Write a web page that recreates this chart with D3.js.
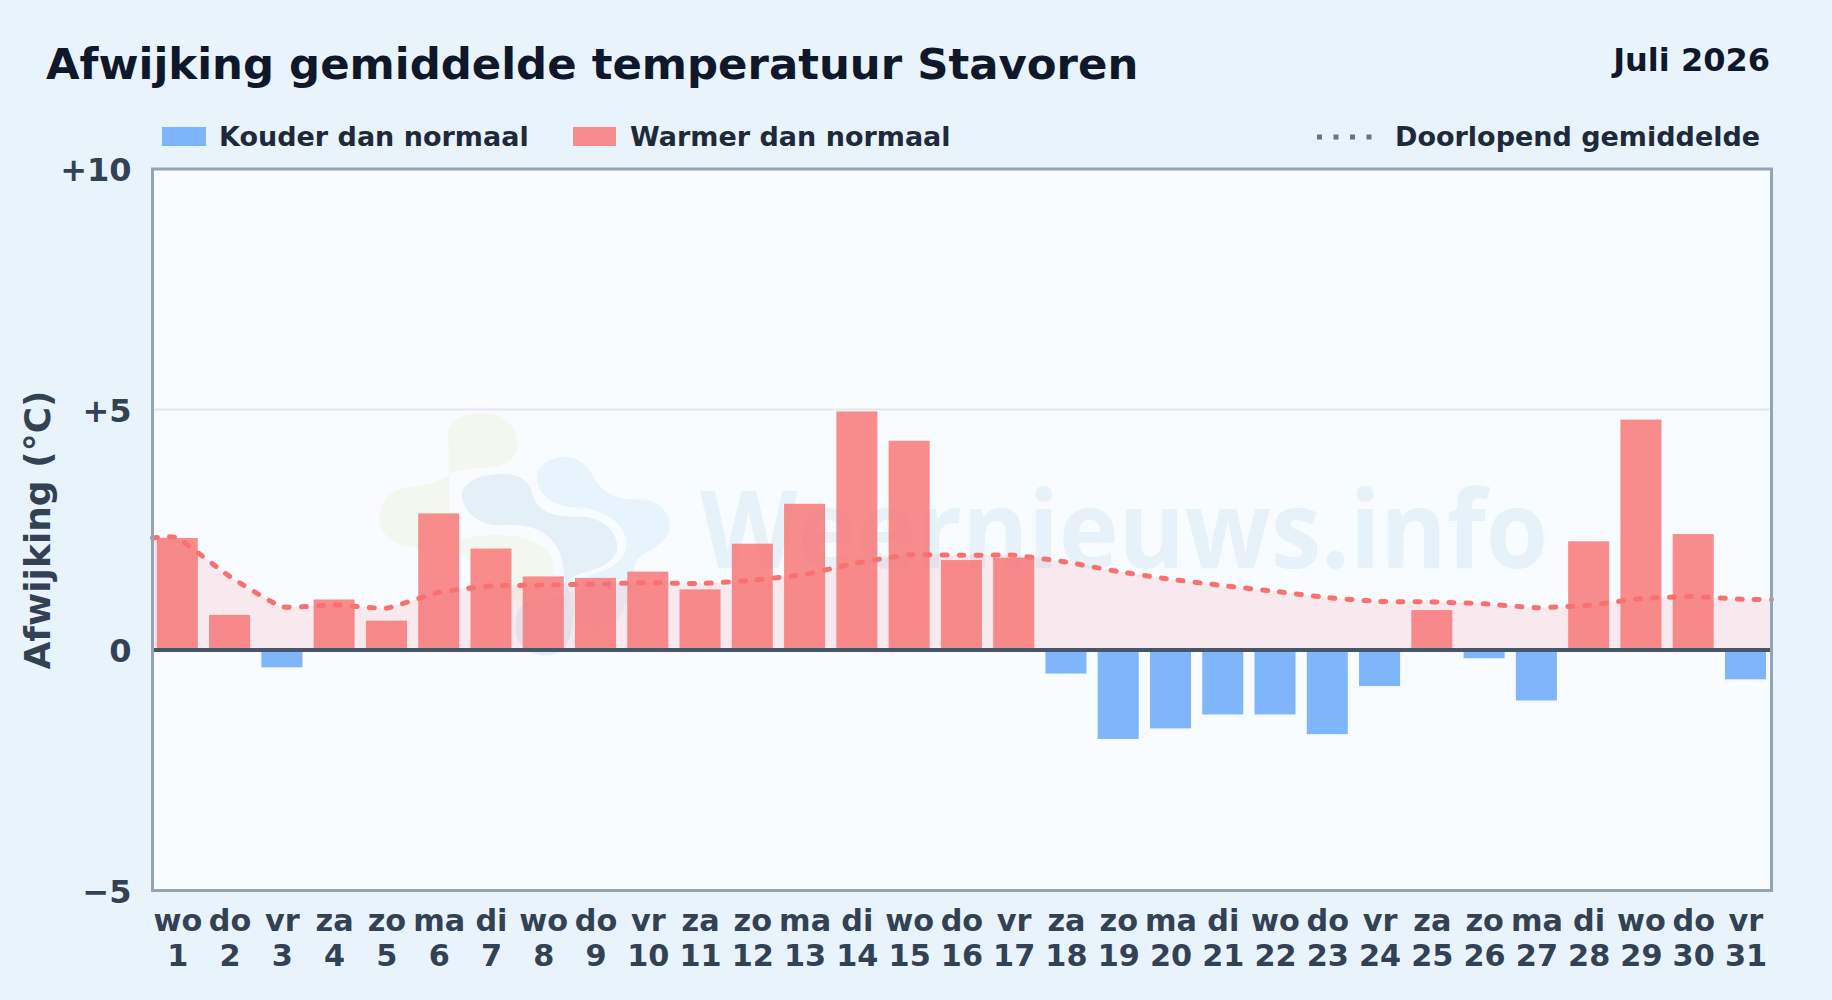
<!DOCTYPE html>
<html>
<head>
  <meta charset="utf-8">
  <title>Afwijking gemiddelde temperatuur Stavoren</title>
  <style>
  html, body { margin: 0; padding: 0; background: #e8f3fc; }
  svg { display: block; }
  text { font-family: "DejaVu Sans", sans-serif; font-weight: 700; }
  .axis path, .axis line { display: none; }
  </style>
</head>
<body>
  <svg width="1832" height="1000"></svg>
  <script src="https://d3js.org/d3.v7.min.js"></script>
  <script>
  // waarden
  var days = ["wo","do","vr","za","zo","ma","di","wo","do","vr","za","zo","ma","di","wo","do","vr","za","zo","ma","di","wo","do","vr","za","zo","ma","di","wo","do","vr"];
  var dates = [1,2,3,4,5,6,7,8,9,10,11,12,13,14,15,16,17,18,19,20,21,22,23,24,25,26,27,28,29,30,31];
  var anomaly = [2.33,0.73,-0.36,1.05,0.61,2.84,2.11,1.53,1.50,1.63,1.26,2.21,3.04,4.96,4.35,1.87,1.92,-0.49,-1.85,-1.63,-1.34,-1.34,-1.75,-0.75,0.83,-0.17,-1.05,2.26,4.79,2.41,-0.61];
  var runningMean = [2.33,1.53,0.90,0.94,0.87,1.20,1.33,1.35,1.37,1.40,1.38,1.45,1.57,1.81,1.98,1.97,1.97,1.83,1.63,1.47,1.34,1.22,1.09,1.01,1.00,0.96,0.88,0.93,1.07,1.11,1.05];
  var yTicks = [-5,0,5,10];
  var yTickLabels = ["\u22125","0","+5","+10"];

  var svg = d3.select("svg"),
      margin = {top: 169, right: 60.5, bottom: 109.5, left: 152.5},
      width = +svg.attr("width") - margin.left - margin.right,
      height = +svg.attr("height") - margin.top - margin.bottom,
      g = svg.append("g").attr("transform", "translate(" + margin.left + "," + margin.top + ")");

  var x = d3.scaleBand().domain(d3.range(dates.length)).range([-1.3, width + 0.1]).paddingInner(0.215).paddingOuter(0.1075);
  var y = d3.scaleLinear().domain([-5, 10]).range([height, 0]);

  // achtergrond plotvlak
  g.append("rect").attr("width", width).attr("height", height).attr("fill", "#f8fbff");

  // watermerk: logo en tekst
  var logo = g.append("g").attr("transform", "translate(" + (360 - margin.left) + "," + (400 - margin.top) + ") scale(0.3333)");
  logo.append("path").attr("fill", "#f2f8ef").attr("d", "M265,100 C265,60 310,40 370,40 C440,40 470,85 472,130 C474,175 440,195 400,200 C340,205 290,205 265,225 C235,250 180,260 130,265 C85,275 58,310 58,350 C58,400 100,440 160,440 C220,442 280,425 340,410 C400,400 470,400 530,430 C570,450 582,480 580,510 C575,560 520,590 470,600 C420,610 380,560 350,510 C320,470 300,450 270,440 Z");
  logo.append("path").attr("fill", "#e5eff8").attr("d", "M305,285 C310,240 370,222 430,222 C490,222 510,250 520,290 C535,335 580,350 640,350 C710,345 770,380 772,440 C772,480 720,505 680,515 C640,525 615,540 615,580 C600,600 560,600 520,600 C470,610 460,660 470,710 C485,760 560,785 610,750 C640,720 640,650 640,620 C640,600 640,590 620,560 C605,520 615,480 590,440 C560,390 510,372 440,375 C380,385 310,350 305,285 Z");
  logo.append("path").attr("fill", "#e8f4fd").attr("d", "M530,230 C535,190 580,170 620,172 C670,175 690,210 710,245 C740,290 790,300 840,298 C900,300 930,340 930,380 C925,430 870,445 840,470 C810,495 830,530 800,600 C790,660 750,695 700,690 C650,680 625,630 630,590 C640,550 680,530 720,515 C770,500 800,470 800,430 C800,380 740,325 650,322 C590,322 530,290 530,230 Z");
  g.append("text")
    .attr("x", 700 - margin.left).attr("y", 568 - margin.top)
    .attr("font-size", 108).attr("fill", "#e6f1fa")
    .attr("textLength", 848).attr("lengthAdjust", "spacingAndGlyphs")
    .style("font-family", "'Open Sans', sans-serif")
    .style("font-weight", 700)
    .text("Weernieuws.info");

  // raster
  g.append("line").attr("x1", 0).attr("x2", width).attr("y1", y(5)).attr("y2", y(5))
    .attr("stroke", "#e2e8f0").attr("stroke-width", 2);

  // doorlopend gemiddelde, loopt door tot aan de randen
  var lineData = [{px: 0, v: runningMean[0]}]
    .concat(runningMean.map(function(v, i) { return {px: x(i) + x.bandwidth() / 2, v: v}; }))
    .concat([{px: width, v: runningMean[runningMean.length - 1]}]);

  var curve = d3.curveCardinal.tension(0.6);
  var area = d3.area().curve(curve)
    .x(function(d) { return d.px; }).y0(y(0)).y1(function(d) { return y(d.v); });
  var line = d3.line().curve(curve)
    .x(function(d) { return d.px; }).y(function(d) { return y(d.v); });

  g.append("path").datum(lineData).attr("d", area).attr("fill", "#fb7185").attr("fill-opacity", 0.13);

  // staven
  g.selectAll(".bar").data(anomaly).enter().append("rect")
    .attr("class", "bar")
    .attr("x", function(d, i) { return x(i); })
    .attr("width", x.bandwidth())
    .attr("y", function(d) { return y(Math.max(d, 0)); })
    .attr("height", function(d) { return Math.abs(y(d) - y(0)); })
    .attr("fill", function(d) { return d < 0 ? "#60a5fa" : "#f87171"; })
    .attr("fill-opacity", 0.8);

  g.append("path").datum(lineData).attr("d", line)
    .attr("fill", "none").attr("stroke", "#f87171").attr("stroke-width", 5)
    .attr("stroke-linecap", "round").attr("stroke-dasharray", "5 12");

  // nullijn en kader
  g.append("line").attr("x1", 0).attr("x2", width).attr("y1", y(0)).attr("y2", y(0))
    .attr("stroke", "#475569").attr("stroke-width", 4);
  g.append("rect").attr("width", width).attr("height", height)
    .attr("fill", "none").attr("stroke", "#94a3b8").attr("stroke-width", 3);

  // assen
  var yAxis = g.append("g").attr("class", "axis")
    .call(d3.axisLeft(y).tickValues(yTicks).tickSize(0).tickPadding(21)
      .tickFormat(function(d, i) { return yTickLabels[i]; }));
  yAxis.selectAll("text").attr("font-size", 32).attr("fill", "#334155").attr("dy", "0.36em");
  yAxis.attr("font-family", null);

  var xAxis = g.append("g").attr("class", "axis")
    .attr("transform", "translate(0," + height + ")")
    .call(d3.axisBottom(x).tickSize(0).tickFormat(function(i) { return days[i]; }));
  xAxis.attr("font-family", null);
  xAxis.selectAll("text")
    .attr("font-size", 30.3).attr("fill", "#334155").attr("y", 0).attr("dy", null)
    .each(function(i) {
      var t = d3.select(this).text(null);
      t.append("tspan").attr("x", 0.5).attr("y", 40).text(days[i]);
      t.append("tspan").attr("x", 0.5).attr("y", 75).text(dates[i]);
    });

  svg.append("text")
    .attr("transform", "translate(50,530) rotate(-90)")
    .attr("text-anchor", "middle").attr("font-size", 36).attr("fill", "#334155")
    .text("Afwijking (\u00b0C)");

  // titel
  svg.append("text").attr("x", 46).attr("y", 79).attr("font-size", 43.4).attr("fill", "#0f172a")
    .text("Afwijking gemiddelde temperatuur Stavoren");
  svg.append("text").attr("x", 1770).attr("y", 71).attr("text-anchor", "end").attr("font-size", 32).attr("fill", "#0f172a")
    .text("Juli 2026");

  // legenda
  var legend = svg.append("g");
  legend.append("rect").attr("x", 162).attr("y", 127).attr("width", 44).attr("height", 19).attr("fill", "#60a5fa").attr("fill-opacity", 0.8);
  legend.append("text").attr("x", 219).attr("y", 146).attr("font-size", 27).attr("fill", "#1e293b").text("Kouder dan normaal");
  legend.append("rect").attr("x", 573).attr("y", 127).attr("width", 43).attr("height", 19).attr("fill", "#f87171").attr("fill-opacity", 0.8);
  legend.append("text").attr("x", 630).attr("y", 146).attr("font-size", 27).attr("fill", "#1e293b").text("Warmer dan normaal");
  legend.append("line").attr("x1", 1317).attr("x2", 1375).attr("y1", 137).attr("y2", 137)
    .attr("stroke", "#64748b").attr("stroke-width", 5).attr("stroke-dasharray", "5 11.5");
  legend.append("text").attr("x", 1395).attr("y", 146).attr("font-size", 27).attr("fill", "#1e293b").text("Doorlopend gemiddelde");
  </script>
</body>
</html>
